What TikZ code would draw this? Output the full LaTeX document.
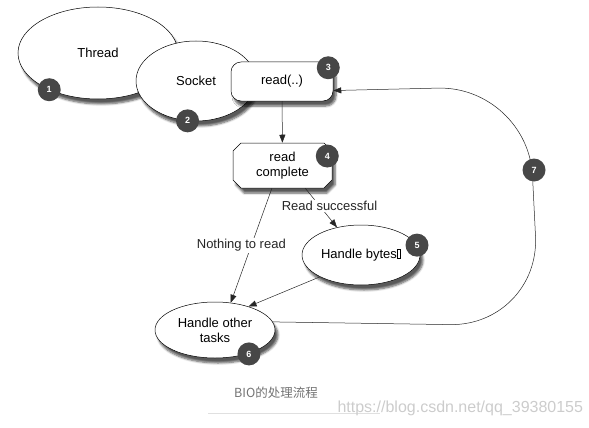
\documentclass[tikz,border=0pt]{standalone}
\usepackage{fontspec}
\setmainfont{Liberation Sans}
\newfontfamily\cjkfont{Noto Sans CJK SC}
\usetikzlibrary{shapes.geometric, shapes.misc, shadows.blur, arrows.meta}
\newcommand{\nobox}{{\setlength{\fboxsep}{0pt}\setlength{\fboxrule}{0.5pt}\fbox{\rule{3pt}{0pt}\rule{0pt}{9pt}}}}

\begin{document}
\begin{tikzpicture}[x=1pt, y=1pt, font=\fontsize{13}{15}\selectfont,
  shade/.style = {blur shadow={shadow xshift=3pt, shadow yshift=-5pt, shadow blur steps=6, shadow opacity=65}},
  state/.style = {draw, ellipse, fill=white, line width=0.5pt, inner sep=0pt, shade},
  callbox/.style = {draw, rectangle, rounded corners=10pt, fill=white, line width=0.5pt, shade},
  donebox/.style = {draw, chamfered rectangle, chamfered rectangle xsep=4pt, chamfered rectangle ysep=4pt, fill=white, line width=0.5pt, align=center, inner sep=0pt, shade},
  badge/.style = {circle, fill=black!72, text=white, font=\fontsize{9}{9}\selectfont\bfseries, minimum size=23pt, inner sep=0pt},
  flow/.style = {-{Triangle[length=8pt, width=6pt]}, line width=0.5pt, black!85},
  tag/.style = {fill=white, inner sep=1pt}]
  \useasboundingbox (0,0) rectangle (589,-428);

  \node[state, minimum width=160pt, minimum height=92pt] (thread) at (98,-53) {Thread};
  \node[state, minimum width=120pt, minimum height=80pt] (socket) at (196,-81) {Socket};
  \node[callbox, minimum width=102pt, minimum height=39pt] (read) at (282,-81.5) {read(..)};
  \node[donebox, minimum width=99pt, minimum height=45pt] (readc) at (282.5,-165.5) {read\\complete};
  \node[state, minimum width=118pt, minimum height=60pt] (bytes) at (361,-255) {Handle bytes\nobox};
  \node[state, minimum width=120pt, minimum height=56pt, align=center] (tasks) at (215,-330) {Handle other\\tasks};

  \coordinate (loopbr) at (540,-326);
  \coordinate (looptr) at (528,-86);

  \draw[flow] (read) -- (readc);
  \draw[flow] (readc.245) -- node[tag, xshift=-10pt] {Nothing to read} (tasks.60);
  \draw[flow] (readc.315) -- node[tag, pos=0.45, xshift=10pt] {Read successful} (bytes.131);
  \draw[flow] (bytes.208) -- (tasks.35);
  \draw[flow, rounded corners=90pt] (tasks.8) -- (loopbr) -- (looptr) -- (read.-10);

  \node[badge] (b1) at (thread.217) {1};
  \node[badge] (b2) at (socket.258) {2};
  \node[badge] (b3) at ([shift={(-5,-6)}]read.north east) {3};
  \node[badge] (b4) at ([shift={(-5,9.5)}]readc.east) {4};
  \node[badge] (b5) at (bytes.10) {5};
  \node[badge] (b6) at ([shift={(-4,-2)}]tasks.330) {6};
  \node[badge] (b7) at (534,-170) {7};

  \node[text=black!55, font=\fontsize{12.5}{14}\cjkfont] (caption) at (276,-393) {BIO的处理流程};
  \draw[black!12, line width=0.8pt] (208,-413) -- (380,-413);
  \node[text=black!20, font=\fontsize{16}{18}\selectfont, anchor=west] (mark) at (334,-408) {https://blog.csdn.net/qq\_39380155};
\end{tikzpicture}
\end{document}
